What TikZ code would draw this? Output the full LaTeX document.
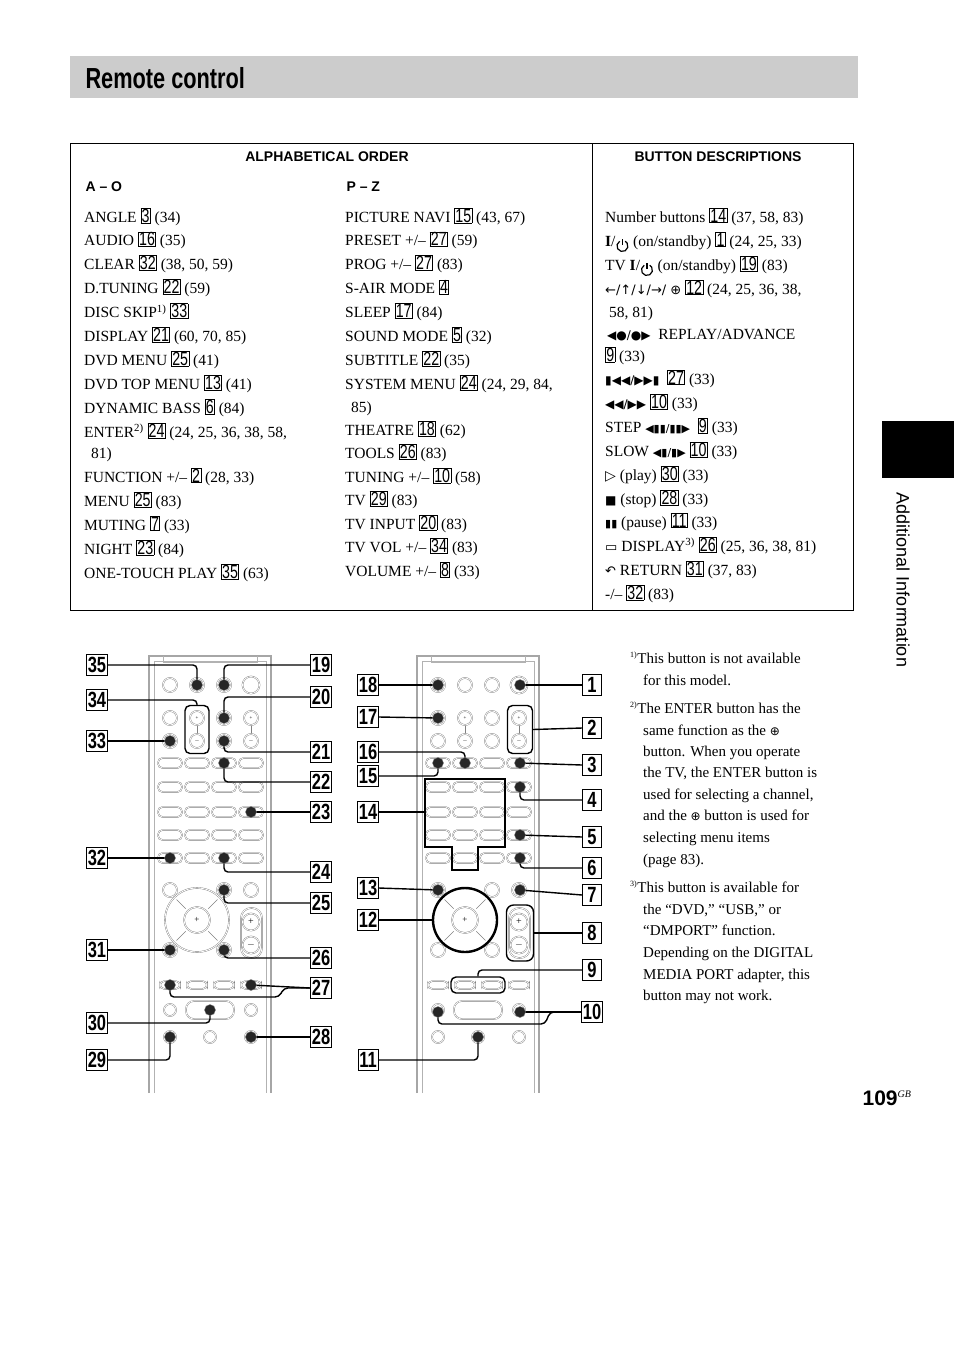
\documentclass[tikz,border=0pt]{standalone}
\usepackage{fontspec}
\setmainfont{Liberation Serif}
\setsansfont{Liberation Sans}
\newfontfamily\cond[FakeStretch=0.75]{Liberation Sans}
\newfontfamily\dv{DejaVu Sans}
\newcommand\bn[1]{{\setlength\fboxsep{0.4pt}\setlength\fboxrule{0.7pt}\fbox{\cond\fontsize{19}{19}\selectfont #1}}}
\newcommand\pwr{\tikz[baseline=0pt,x=1pt,y=1pt,line width=1.2pt]{\draw (120:5.5) arc (120:420:5.5);\draw (0,1)--(0,7.5);\path (0,-5.5) (0,7.5);}}
\newcommand\pw{{\bfseries I}/\pwr}
\tikzset{
 tx/.style={anchor=base west,inner sep=0pt,font=\fontsize{15.5}{17}\selectfont},
 fn/.style={anchor=base west,inner sep=0pt,font=\fontsize{15}{17}\selectfont},
 lab/.style={draw,line width=0.9pt,inner sep=1pt,minimum height=21pt,minimum width=20pt,font=\cond\bfseries\fontsize{22}{22}\selectfont},
 ld/.style={line width=1.4pt,rounded corners=4pt},
 rb/.style={circle,draw=gray,double=white,double distance=0.8pt,minimum size=14pt,inner sep=0pt},
 ob/.style={rectangle,rounded corners=4.5pt,draw=gray,double=white,double distance=0.7pt,minimum width=24pt,minimum height=10pt,inner sep=0pt},
 tb/.style={circle,draw=gray,fill=black!85,minimum size=11pt,inner sep=0pt},
 brk/.style={draw,line width=1.4pt,rounded corners=5pt,inner sep=0pt},
}
\newcommand\remote[1]{%
\begin{scope}[xshift=#1pt]
 \draw[gray!70,line width=2pt] (149,1093)--(149,656)--(271,656)--(271,1093);
 \draw[gray!60,line width=0.6pt] (154,1093)--(154,661)--(266,661)--(266,1093);
 \draw[gray!60,line width=0.8pt] (163,656)--(163,662)--(257,662)--(257,656);
 \foreach \x in {170,197,224} \node[rb] at (\x,685) {};
 \node[rb,minimum size=17pt] at (251,685) {};
 \foreach \x in {170,224} {\node[rb] at (\x,718) {};\node[rb] at (\x,741) {};}
 \foreach \x in {197,251} {\draw[gray] (\x,718)--(\x,741);
   \node[rb,fill=white] at (\x,718) {\tiny+};\node[rb,fill=white] at (\x,741) {\tiny$-$};}
 \foreach \y in {763,787,812,835,858} \foreach \x in {170,197,224,251} \node[ob] at (\x,\y) {};
 \foreach \x in {170,224,251} \node[rb] at (\x,890) {};
 \foreach \x in {170,224} \node[rb] at (\x,950) {};
 \draw[gray,double=white,double distance=0.8pt] (197,920) circle (32);
 \draw[gray,double=white,double distance=0.8pt] (197,920) circle (13);
 \foreach \a in {45,135,225,315} \draw[gray] ($(197,920)+(\a:16)$)--($(197,920)+(\a:29)$);
 \node[font=\small] at (197,920) {+};
 \draw[gray,double=white,double distance=0.8pt,rounded corners=10pt] (241,908) rectangle (262,958);
 \node[rb,minimum size=17pt,fill=white] at (251,922) {+};
 \node[rb,minimum size=17pt,fill=white] at (251,945) {$-$};
 \foreach \x in {170,197,224,251} \node[ob,minimum width=20pt,minimum height=8pt] at (\x,985) {};
 \node[rb,minimum size=12pt] at (170,1010) {};
 \node[rb,minimum size=12pt] at (251,1010) {};
 \node[ob,minimum width=48pt,minimum height=18pt,rounded corners=8pt] at (210,1010) {};
 \foreach \x in {170,210,251} \node[rb,minimum size=12pt] at (\x,1037) {};
\end{scope}}
\usetikzlibrary{calc}
\begin{document}
\begin{tikzpicture}[x=1pt,y=-1pt]
\useasboundingbox (0,0) rectangle (954,1352);
% title
\fill[black!20] (70,56) rectangle (858,98);
\node[anchor=west,font=\cond\bfseries\fontsize{29}{29}\selectfont] (title) at (82,78) {Remote control};
% side tab
\fill[black] (882,421) rectangle (954,478);
\node[rotate=-90,font=\sffamily\fontsize{18}{18}\selectfont] (side) at (903,580) {Additional Information};
% table
\draw[line width=0.8pt] (70,143) rectangle (853,610);
\draw[line width=0.8pt] (592,143) -- (592,610);
\node[font=\sffamily\bfseries\fontsize{14}{14}\selectfont] (h1) at (327,157) {ALPHABETICAL ORDER};
\node[font=\sffamily\bfseries\fontsize{14}{14}\selectfont] (h2) at (718,157) {BUTTON DESCRIPTIONS};
\node[anchor=west,font=\sffamily\bfseries\fontsize{14}{14}\selectfont] (ao) at (82,187) {A – O};
\node[anchor=west,font=\sffamily\bfseries\fontsize{14}{14}\selectfont] (pz) at (343,187) {P – Z};
\foreach \t [count=\i from 0] in {
 {ANGLE \bn{3} (34)},{AUDIO \bn{16} (35)},{CLEAR \bn{32} (38, 50, 59)},{D.TUNING \bn{22} (59)},
 {DISC SKIP\textsuperscript{1)} \bn{33}},{DISPLAY \bn{21} (60, 70, 85)},{DVD MENU \bn{25} (41)},
 {DVD TOP MENU \bn{13} (41)},{DYNAMIC BASS \bn{6} (84)},{ENTER\textsuperscript{2)} \bn{24} (24, 25, 36, 38, 58,}}
 \node[tx] at (84,222+23.9*\i) {\t};
\node[tx] at (91,458) {81)};
\foreach \t [count=\i from 0] in {
 {FUNCTION +/– \bn{2} (28, 33)},{MENU \bn{25} (83)},{MUTING \bn{7} (33)},{NIGHT \bn{23} (84)},
 {ONE-TOUCH PLAY \bn{35} (63)}}
 \node[tx] at (84,482+24*\i) {\t};
\foreach \t [count=\i from 0] in {
 {PICTURE NAVI \bn{15} (43, 67)},{PRESET +/– \bn{27} (59)},{PROG +/– \bn{27} (83)},
 {S-AIR MODE \bn{4}},{SLEEP \bn{17} (84)},{SOUND MODE \bn{5} (32)},{SUBTITLE \bn{22} (35)},
 {SYSTEM MENU \bn{24} (24, 29, 84,}}
 \node[tx] at (345,222+23.9*\i) {\t};
\node[tx] at (351,412) {85)};
\foreach \t [count=\i from 0] in {
 {THEATRE \bn{18} (62)},{TOOLS \bn{26} (83)},{TUNING +/– \bn{10} (58)},{TV \bn{29} (83)},
 {TV INPUT \bn{20} (83)},{TV VOL +/– \bn{34} (83)},{VOLUME +/– \bn{8} (33)}}
 \node[tx] at (345,435+23.5*\i) {\t};
\foreach \t/\y in {
 {Number buttons \bn{14} (37, 58, 83)}/222,
 {\pw{} (on/standby) \bn{1} (24, 25, 33)}/246,
 {TV \pw{} (on/standby) \bn{19} (83)}/270,
 {{\dv\fontsize{13}{12}\selectfont ←/↑/↓/→/ ⊕} \bn{12} (24, 25, 36, 38,}/294,
 {\ 58, 81)}/317,
 {{\dv\fontsize{12}{12}\selectfont \,◀●/●▶}\ \ REPLAY/ADVANCE}/339,
 {\bn{9} (33)}/361,
 {{\dv\fontsize{12}{12}\selectfont ▮◀◀/▶▶▮}\ \ \bn{27} (33)}/384,
 {{\dv\fontsize{12}{12}\selectfont ◀◀/▶▶} \bn{10} (33)}/408,
 {STEP {\dv\fontsize{11}{12}\selectfont ◀▮▮/▮▮▶}\ \ \bn{9} (33)}/432,
 {SLOW {\dv\fontsize{11}{12}\selectfont ◀▮/▮▶} \bn{10} (33)}/456,
 {{\dv\fontsize{14}{12}\selectfont ▷} (play) \bn{30} (33)}/480,
 {{\dv\fontsize{12}{12}\selectfont ■} (stop) \bn{28} (33)}/504,
 {{\dv\fontsize{11}{12}\selectfont ▮▮} (pause) \bn{11} (33)}/527,
 {{\dv\fontsize{13}{12}\selectfont ▭} DISPLAY\textsuperscript{3)} \bn{26} (25, 36, 38, 81)}/551,
 {{\dv\fontsize{13}{12}\selectfont ↶} RETURN \bn{31} (37, 83)}/575,
 {-/-- \bn{32} (83)}/599}
 \node[tx] at (605,\y) {\t};
% footnotes
\foreach \t/\x/\y in {
 {\textsuperscript{\footnotesize 1)}This button is not available}/630/663,{for this model.}/643/685,
 {\textsuperscript{\footnotesize 2)}The ENTER button has the}/630/713,{same function as the {\dv\fontsize{12}{12}\selectfont ⊕}}/643/735,
 {button. When you operate}/643/756,{the TV, the ENTER button is}/643/777,{used for selecting a channel,}/643/799,
 {and the {\dv\fontsize{12}{12}\selectfont ⊕} button is used for}/643/820,{selecting menu items}/643/842,{(page 83).}/643/864,
 {\textsuperscript{\footnotesize 3)}This button is available for}/630/892,{the “DVD,” “USB,” or}/643/914,
 {“DMPORT” function.}/643/935,{Depending on the DIGITAL}/643/957,{MEDIA PORT adapter, this}/643/979,{button may not work.}/643/1000}
 \node[fn] at (\x,\y) {\t};
% page number
\node[anchor=base east,font=\sffamily\bfseries\fontsize{21}{21}\selectfont] (pg) at (915,1105) {109\textsuperscript{\normalfont\itshape\fontsize{10}{10}\selectfont GB}};
% remotes
\remote{0}
\remote{268}
% ---------- left remote targets
\coordinate (b35) at (197,685); \coordinate (b19) at (224,685); \coordinate (b20) at (224,718);
\coordinate (b33) at (170,741); \coordinate (b21) at (224,741); \coordinate (b22) at (224,763);
\coordinate (b23) at (251,812); \coordinate (b32) at (170,858); \coordinate (b24) at (224,858);
\coordinate (b25) at (224,890); \coordinate (b31) at (170,950); \coordinate (b26) at (224,950);
\coordinate (b27a) at (170,985); \coordinate (b27b) at (251,985); \coordinate (b30) at (210,1010);
\coordinate (b29) at (170,1037); \coordinate (b28) at (251,1037);
\node[brk,minimum width=24pt,minimum height=48pt] (k34) at (197,729.5) {};
\foreach \n/\y in {35/665,34/700,33/741,32/858,31/950,30/1023,29/1060} \node[lab] (l\n) at (97,\y) {\n};
\foreach \n/\y in {19/665,20/697,21/752,22/782,23/812,24/872,25/903,26/958,27/988,28/1037} \node[lab] (l\n) at (321,\y) {\n};
\draw[ld] (l35.east) -| (b35);
\draw[ld] (l34.east) -| (k34.north);
\draw[ld] (l33.east) -- (b33);
\draw[ld] (l32.east) -- (b32);
\draw[ld] (l31.east) -- (b31);
\draw[ld] (l30.east) -| (b30);
\draw[ld] (l29.east) -| (b29);
\foreach \n in {19,20,21,22,24,25,26} \draw[ld] (l\n.west) -| (b\n);
\draw[ld] (l23.west) -- (b23);
\draw[ld] (l28.west) -- (b28);
\draw[ld] (l27.west) -- (b27b);
\draw[ld] (l27.west) -- (284,988) -- (279,997) -| (b27a);
\foreach \n in {35,19,20,33,21,22,23,32,24,25,31,26,27a,27b,30,29,28} \node[tb] at (b\n) {};
% ---------- right remote targets
\coordinate (b18) at (438,685); \coordinate (b1) at (520,685); \coordinate (b17) at (438,718);
\coordinate (b16) at (465,763); \coordinate (b15) at (438,763); \coordinate (b3) at (520,763);
\coordinate (b4) at (520,787); \coordinate (b5) at (520,835); \coordinate (b6) at (520,858);
\coordinate (b13) at (438,890); \coordinate (b7) at (520,890);
\coordinate (b10a) at (438,1012); \coordinate (b10b) at (520,1012); \coordinate (b11) at (478,1037);
\node[brk,minimum width=25pt,minimum height=48pt] (k2) at (520,729.5) {};
\node[brk,minimum width=27pt,minimum height=56pt,rounded corners=7pt] (k8) at (520,933) {};
\node[brk,minimum width=54pt,minimum height=16pt] (k9) at (478,985) {};
\draw[line width=1.4pt] (425,779)--(505,779)--(505,847)--(478,847)--(478,870)--(452,870)--(452,847)--(425,847)--cycle;
\coordinate (k14) at (425,812);
\draw[line width=2.4pt] (465,920) circle (32);
\coordinate (k12) at (433,920);
\foreach \n/\y in {18/685,17/717,16/752,15/776,14/812,13/888,12/920,11/1060} \node[lab] (l\n) at (368,\y) {\n};
\foreach \n/\y in {1/685,2/728,3/765,4/800,5/837,6/868,7/895,8/933,9/970,10/1012} \node[lab,minimum width=19pt] (l\n) at (592,\y) {\n};
\foreach \n in {18,17,13} \draw[ld] (l\n.east) -- (b\n);
\draw[ld] (l16.east) -| (b16);
\draw[ld] (l15.east) -| (b15);
\draw[ld] (l14.east) -- (k14);
\draw[ld] (l12.east) -- (k12);
\draw[ld] (l11.east) -| (b11);
\foreach \n in {1,3,5,7} \draw[ld] (l\n.west) -- (b\n);
\foreach \n in {4,6} \draw[ld] (l\n.west) -| (b\n);
\draw[ld] (l2.west) -- (k2.east);
\draw[ld] (l8.west) -- (k8.east);
\draw[ld] (l9.west) -| (k9.north);
\draw[ld] (l10.west) -- (b10b);
\draw[ld] (l10.west) -- (550,1012) -- (545,1024) -| (b10a);
\foreach \n in {18,1,17,16,15,3,4,5,6,13,7,10a,10b,11} \node[tb] at (b\n) {};
\end{tikzpicture}
\end{document}
